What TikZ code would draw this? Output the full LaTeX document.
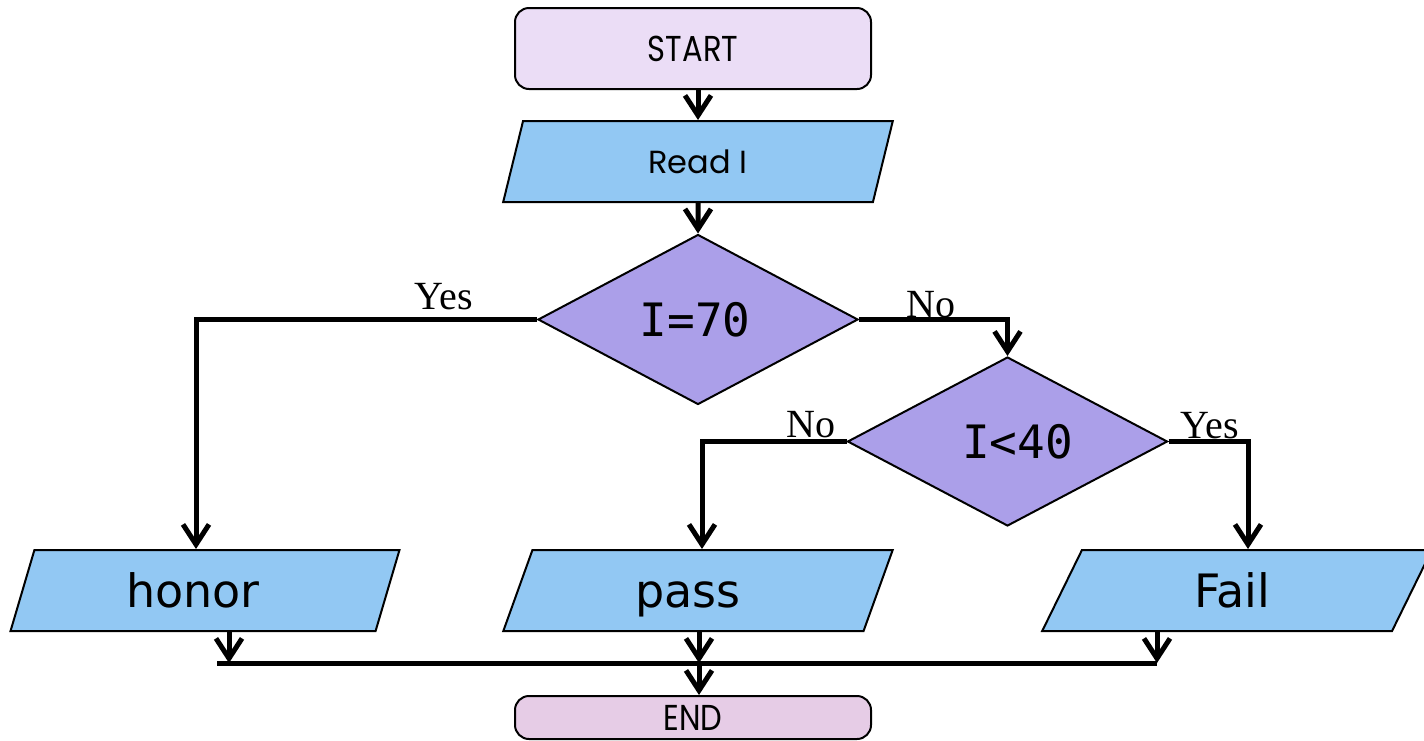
\documentclass[tikz,border=0pt]{standalone}
\usepackage{fontspec}
\setmainfont{Liberation Serif}
\newfontfamily\gothic[FakeStretch=0.85]{Poppins}
\newfontfamily\gothicw{Poppins}
\newfontfamily\dvs{DejaVu Sans}
\newfontfamily\dvm{DejaVu Sans Mono}
\usetikzlibrary{shapes.geometric,arrows.meta,calc}
\definecolor{startfill}{HTML}{EBDDF6}
\definecolor{endfill}{HTML}{E6CCE6}
\definecolor{iofill}{HTML}{92C8F3}
\definecolor{decfill}{HTML}{AB9FE9}
\tikzset{
  term/.style={draw=black, line width=2pt, rounded corners=14pt, minimum width=356pt, inner sep=0pt},
  iobox/.style={draw=black, line width=2pt, fill=iofill, shape=trapezium,
     trapezium left angle=76.8, trapezium right angle=103.2, trapezium stretches=true,
     minimum width=390pt, minimum height=81pt, inner sep=0pt},
  decbox/.style={draw=black, line width=2pt, fill=decfill, shape=diamond, inner sep=0pt,
     minimum width=320pt, minimum height=170pt, font=\dvm\fontsize{46}{50}\selectfont},
  conn/.style={draw=black, line width=5pt},
  arr/.style={conn, -{Straight Barb[length=20pt,width=26pt]}},
  lbl/.style={font=\fontsize{40}{44}\selectfont, inner sep=0pt, anchor=base},
  bigtxt/.style={font=\dvs\fontsize{46}{50}\selectfont, text height=40pt, text depth=7pt}
}
\begin{document}
\begin{tikzpicture}[x=1pt,y=-1pt]
\useasboundingbox (0,0) rectangle (1424,740);
% nodes
\node[term, fill=startfill, minimum height=81pt, font=\gothic\fontsize{36}{40}\selectfont] (start) at (693,48.5) {START};
\node[iobox, font=\gothicw\fontsize{32}{36}\selectfont] (read) at (698,161.5) {Read I};
\node[decbox] (d1) at (698,319.5) {I=70\hspace*{6pt}};
\node[decbox, minimum height=169pt] (d2) at (1007.5,441.5) {\hspace*{20pt}I<40};
\node[iobox, bigtxt] (honor) at (205,590.5) {honor\hspace*{24pt}};
\node[iobox, bigtxt] (pass) at (698,590.5) {pass\hspace*{20pt}};
\node[iobox, bigtxt] (fail) at (1237,590.5) {Fail\hspace*{10pt}};
\node[term, fill=endfill, minimum height=43pt, font=\gothic\fontsize{36}{40}\selectfont] (stop) at (693,717.5) {END};
% labels
\node[lbl] (yes1) at (444,309) {Yes};
\node[lbl] (no1) at (931,317) {No};
\node[lbl] (no2) at (811,437) {No};
\node[lbl] (yes2) at (1210,438) {Yes};
% coordinates
\coordinate (hy) at (196,319.5);
\coordinate (pn) at (702,441.5);
\coordinate (fy) at (1248,441.5);
\coordinate (barL) at (217,663);
\coordinate (barR) at (1157,663);
\coordinate (hb) at (229,663);
\coordinate (pb) at (699,663);
\coordinate (fb) at (1157,663);
% connectors
\draw[arr] (start.south -| read.north) -- (read.north);
\draw[arr] (read.south) -- (d1.north);
\draw[arr] (d1.west) -- (hy) -- (hy |- honor.north);
\draw[arr] (d1.east) -| (d2.north);
\draw[arr] (d2.west) -- (pn) -- (pn |- pass.north);
\draw[arr] (d2.east) -- (fy) -- (fy |- fail.north);
\draw[conn] (barL) -- (barR);
\draw[arr] (hb |- honor.south) -- (hb);
\draw[arr] (pb |- pass.south) -- (pb);
\draw[arr] (fb |- fail.south) -- (fb);
\draw[arr] (pb) -- (pb |- stop.north);
\end{tikzpicture}
\end{document}
